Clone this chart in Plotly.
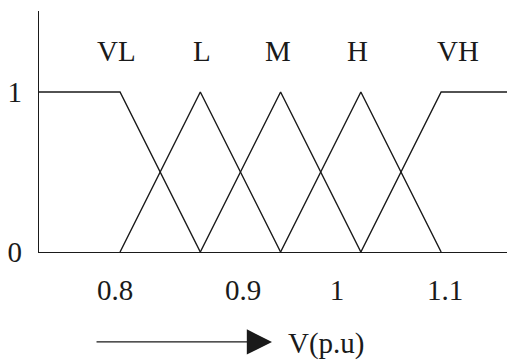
import plotly.graph_objects as go

# membership breakpoints on V (p.u)
x_min, x_max = 0.7243, 1.169
breaks = [0.8, 0.875, 0.95, 1.025, 1.1]

sets = ["VL", "L", "M", "H", "VH"]
set_x = [
    [x_min, 0.8, 0.875],
    [0.8, 0.875, 0.95],
    [0.875, 0.95, 1.025],
    [0.95, 1.025, 1.1],
    [1.025, 1.1, x_max],
]
set_y = [
    [1, 1, 0],
    [0, 1, 0],
    [0, 1, 0],
    [0, 1, 0],
    [0, 1, 1],
]

# where the set names sit above the peaks
label_x = [0.797, 0.8766, 0.9477, 1.0215, 1.116]
label_y = 1.256

tick_pos = [0.7953, 0.915, 1.0028, 1.1037]
tick_text = ["0.8", "0.9", "1", "1.1"]

INK = "#1a1a1a"
FONT = dict(family="Liberation Serif", size=29, color=INK)

fig = go.Figure()
for name, xs, ys in zip(sets, set_x, set_y):
    fig.add_trace(go.Scatter(x=xs, y=ys, mode="lines", name=name,
                             line=dict(color=INK, width=1.4), hoverinfo="skip"))

for name, lx in zip(sets, label_x):
    fig.add_annotation(x=lx, y=label_y, text=name, showarrow=False, font=FONT)

# the "V(p.u)" arrow under the axis
fig.add_annotation(x=0.942, y=-0.373, xref="x", yref="paper", ax=-177, ay=0,
                   text="", showarrow=True, arrowhead=2, arrowsize=3.6,
                   arrowwidth=1.4, arrowcolor=INK)
fig.add_annotation(x=0.9555, y=-0.378, xref="x", yref="paper", text="V(p.u)",
                   showarrow=False, xanchor="left", yanchor="middle", font=FONT)

# page body keeps its default 8px margin, so the figure is 8px smaller
fig.update_layout(
    width=507, height=356,
    margin=dict(l=31, r=0, t=3, b=112),
    paper_bgcolor="white", plot_bgcolor="white",
    showlegend=False,
    font=FONT,
    xaxis=dict(range=[x_min, x_max], showgrid=False, zeroline=False,
               showline=True, linecolor=INK, linewidth=1.4, automargin=False,
               tickvals=tick_pos, ticktext=tick_text, ticks="",
               ticklabelstandoff=12),
    yaxis=dict(range=[0, 1.506], showgrid=False, zeroline=False,
               showline=True, linecolor=INK, linewidth=1.4, automargin=False,
               tickvals=[0, 1], ticktext=["0", "1"], ticks="",
               ticklabelstandoff=10),
)

fig.write_html("out.html")
